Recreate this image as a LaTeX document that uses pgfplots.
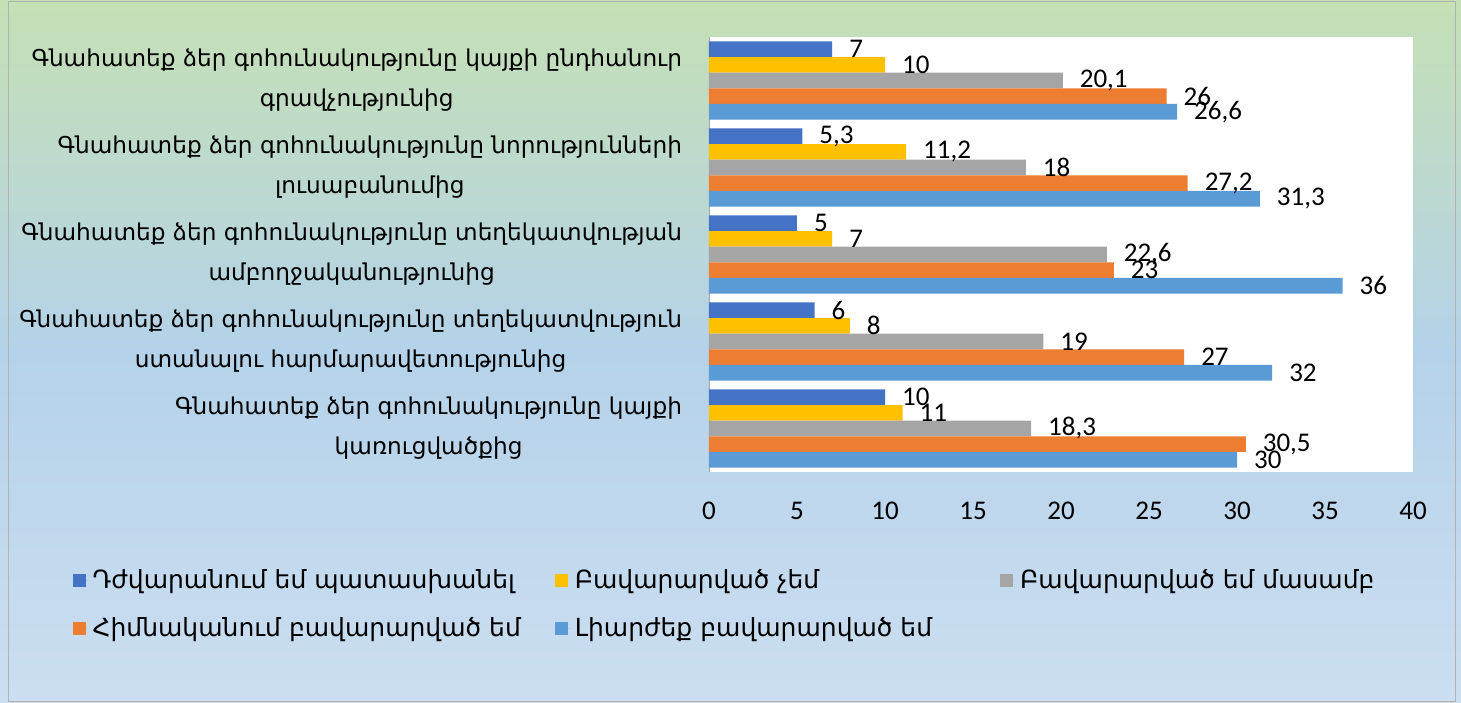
\documentclass[border=0pt]{standalone}
\usepackage{fontspec}
\usepackage{pgfplots}
\pgfplotsset{compat=1.18}
\setmainfont{DejaVu Sans}
\newfontfamily\carlito{Carlito}

\definecolor{sA}{HTML}{4472C4}
\definecolor{sB}{HTML}{FFC000}
\definecolor{sC}{HTML}{A5A5A5}
\definecolor{sD}{HTML}{ED7D31}
\definecolor{sE}{HTML}{5B9BD5}
\definecolor{bgtop}{RGB}{197,224,180}
\definecolor{bgmid}{RGB}{180,210,233}
\definecolor{bgbot}{RGB}{204,222,241}

\begin{document}
\begin{tikzpicture}
\useasboundingbox (0,0) rectangle (730.5pt,351pt);
\shade[top color=bgtop, bottom color=bgbot, middle color=bgmid] (0,0) rectangle (730.5pt,351pt);
\draw[gray!60] (4pt,0.5pt) rectangle (727.5pt,350.5pt);
\begin{axis}[
    at={(354.5pt,115pt)}, anchor=south west,
    scale only axis,
    width=352pt, height=217.5pt,
    xbar, bar width=0.18,
    xmin=0, xmax=40, ymin=-0.5, ymax=4.5,
    axis background/.style={fill=white},
    axis y line*=left, axis x line*=bottom,
    x axis line style={draw=none},
    y axis line style={gray!70},
    major tick length=0pt,
    xtick={0,5,10,15,20,25,30,35,40},
    ytick={0,1,2,3,4},
    /pgf/number format/use comma,
    /pgf/number format/assume math mode=true,
    xticklabel style={font=\carlito\fontsize{13.5}{16}\selectfont, yshift=-11.5pt},
    yticklabel style={font=\fontsize{11.6}{20}\selectfont, align=center, xshift=-10pt},
    yticklabels={
      {Գնահատեք ձեր գոհունակությունը կայքի\\կառուցվածքից},
      {Գնահատեք ձեր գոհունակությունը տեղեկատվություն\\ստանալու հարմարավետությունից},
      {Գնահատեք ձեր գոհունակությունը տեղեկատվության\\ամբողջականությունից},
      {Գնահատեք ձեր գոհունակությունը նորությունների\\լուսաբանումից},
      {Գնահատեք ձեր գոհունակությունը կայքի ընդհանուր\\գրավչությունից}},
    nodes near coords,
    every node near coord/.append style={font=\carlito\fontsize{13.5}{16}\selectfont, anchor=west, xshift=5pt},
    legend columns=3,
    legend style={draw=none, fill=none, at={(-0.913,-0.205)}, anchor=north west,
        font=\fontsize{12.5}{15}\selectfont, row sep=9pt,
        /tikz/column 2/.style={column sep=15pt},
        /tikz/column 4/.style={column sep=32pt}},
    legend cell align=left,
    legend image code/.code={\path (0pt,0pt) -- (8pt,0pt); \fill[#1] (0pt,-3.3pt) rectangle (6.5pt,3.3pt);},
]
\addplot[draw=none, fill=sA, bar shift=0.36]
  coordinates {(10,0) (6,1) (5,2) (5.3,3) (7,4)};
\addplot[draw=none, fill=sB, bar shift=0.18]
  coordinates {(11,0) (8,1) (7,2) (11.2,3) (10,4)};
\addplot[draw=none, fill=sC, bar shift=0]
  coordinates {(18.3,0) (19,1) (22.6,2) (18,3) (20.1,4)};
\addplot[draw=none, fill=sD, bar shift=-0.18]
  coordinates {(30.5,0) (27,1) (23,2) (27.2,3) (26,4)};
\addplot[draw=none, fill=sE, bar shift=-0.36]
  coordinates {(30,0) (32,1) (36,2) (31.3,3) (26.6,4)};
\legend{Դժվարանում եմ պատասխանել,
        Բավարարված չեմ,
        Բավարարված եմ մասամբ,
        Հիմնականում բավարարված եմ,
        Լիարժեք բավարարված եմ}
\end{axis}
\end{tikzpicture}
\end{document}
